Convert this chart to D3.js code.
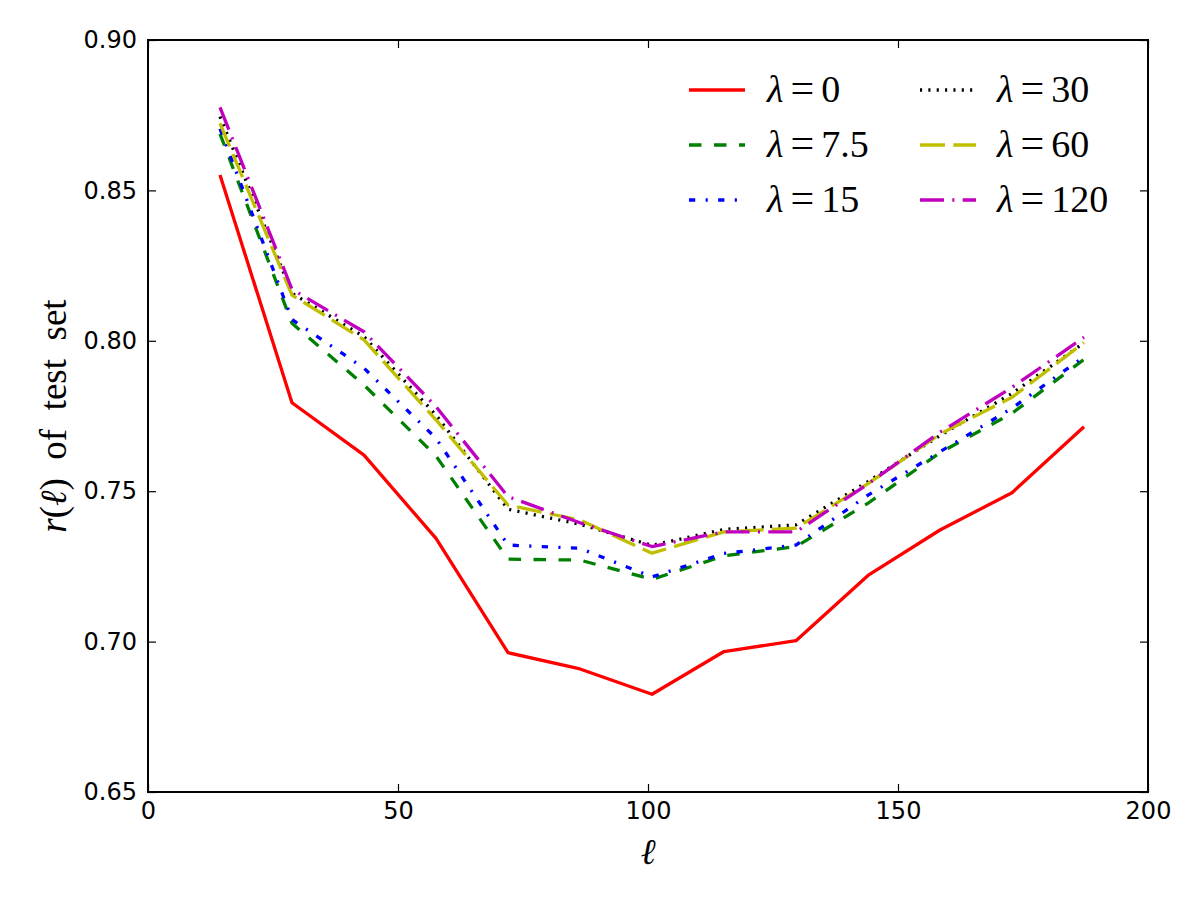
<!DOCTYPE html>
<html>
<head>
<meta charset="utf-8">
<script src="https://cdn.jsdelivr.net/npm/d3@7"></script>
<style>
  html, body { margin: 0; padding: 0; background: #fff; }
  svg { display: block; }
</style>
</head>
<body>
<svg id="chart" width="1200" height="900"></svg>
<script>
// ---- data ----
const ell = [14.4, 28.8, 43.2, 57.6, 72, 86.4, 100.8, 115.2, 129.6, 144, 158.4, 172.8, 187.2];
const lambda0   = [0.8551, 0.7794, 0.7620, 0.7343, 0.6963, 0.6909, 0.6825, 0.6967, 0.7003, 0.7220, 0.7371, 0.7495, 0.7714];
const lambda7_5 = [0.8688, 0.8058, 0.7853, 0.7617, 0.7274, 0.7271, 0.7207, 0.7285, 0.7316, 0.7460, 0.7628, 0.7759, 0.7938];
const lambda15  = [0.8705, 0.8071, 0.7909, 0.7676, 0.7321, 0.7310, 0.7215, 0.7293, 0.7321, 0.7487, 0.7631, 0.7776, 0.7947];
const lambda30  = [0.8745, 0.8158, 0.8014, 0.7753, 0.7440, 0.7390, 0.7320, 0.7373, 0.7388, 0.7532, 0.7685, 0.7825, 0.7993];
const lambda60  = [0.8723, 0.8152, 0.8003, 0.7737, 0.7454, 0.7404, 0.7294, 0.7365, 0.7377, 0.7525, 0.7690, 0.7812, 0.7994];
const lambda120 = [0.8776, 0.8171, 0.8030, 0.7781, 0.7482, 0.7395, 0.7316, 0.7365, 0.7365, 0.7524, 0.7696, 0.7845, 0.8012];

const seriesNames  = ["0", "7.5", "15", "30", "60", "120"];
const seriesValues = [lambda0, lambda7_5, lambda15, lambda30, lambda60, lambda120];
const seriesColors = ["#ff0000", "#008000", "#0000ff", "#000000", "#bfbf00", "#bf00bf"];
const seriesDashes = ["none", "12.5,12.5", "6.25,10.4,2.1,10.4", "2.1,6.25", "25,8.3", "24,8.3,2.1,8.3"];

const xTicks = [0, 50, 100, 150, 200];
const yTicks = [0.65, 0.70, 0.75, 0.80, 0.85, 0.90];

// ---- layout ----
const svg = d3.select("#chart");
const L = 148, R = 1148, T = 40, B = 792;

const x = d3.scaleLinear().domain([0, 200]).range([L, R]);
const y = d3.scaleLinear().domain([0.65, 0.90]).range([B, T]);

const tickFont = "'DejaVu Sans', sans-serif";
const mathFont = "'Liberation Serif', 'DejaVu Serif', serif";

// lines
const line = d3.line().x((d, i) => x(ell[i])).y(d => y(d));
const gLines = svg.append("g");
seriesValues.forEach((vals, k) => {
  gLines.append("path")
    .datum(vals)
    .attr("d", line)
    .attr("fill", "none")
    .attr("stroke", seriesColors[k])
    .attr("stroke-width", 3.3)
    .attr("stroke-dasharray", seriesDashes[k])
    .attr("stroke-linejoin", "round");
});

// axes
function styleAxis(g) {
  g.selectAll(".tick line").attr("stroke", "#000").attr("stroke-width", 1.2);
  g.selectAll(".domain").remove();
  g.selectAll("text").attr("font-family", tickFont).attr("font-size", 24).attr("fill", "#000");
}
svg.append("g").attr("transform", `translate(0,${B})`)
  .call(d3.axisBottom(x).tickValues(xTicks).tickSize(-8).tickPadding(10).tickFormat(d3.format("d")))
  .call(styleAxis);
svg.append("g").attr("transform", `translate(0,${T})`)
  .call(d3.axisTop(x).tickValues(xTicks).tickSize(-8).tickFormat(""))
  .call(styleAxis);
svg.append("g").attr("transform", `translate(${L},0)`)
  .call(d3.axisLeft(y).tickValues(yTicks).tickSize(-8).tickPadding(11).tickFormat(d3.format(".2f")))
  .call(styleAxis);
svg.append("g").attr("transform", `translate(${R},0)`)
  .call(d3.axisRight(y).tickValues(yTicks).tickSize(-8).tickFormat(""))
  .call(styleAxis);

// frame
svg.append("rect")
  .attr("x", L).attr("y", T).attr("width", R - L).attr("height", B - T)
  .attr("fill", "none").attr("stroke", "#000").attr("stroke-width", 2);

// axis labels
svg.append("text")
  .attr("x", (L + R) / 2).attr("y", 864)
  .attr("text-anchor", "middle")
  .attr("font-family", mathFont).attr("font-size", 36).attr("font-style", "italic")
  .text("ℓ");

const yl = svg.append("text")
  .attr("transform", "translate(66,416) rotate(-90)")
  .attr("text-anchor", "middle")
  .attr("font-family", mathFont).attr("font-size", 37);
yl.append("tspan").attr("font-style", "italic").text("r");
yl.append("tspan").text("(");
yl.append("tspan").attr("font-style", "italic").text("ℓ");
yl.append("tspan").text(")\u00a0\u00a0of\u00a0\u00a0test\u00a0\u00a0set");

// legend
const legCols = [{sx: 689, tx: 767}, {sx: 920, tx: 997}];
const legRows = [102, 157, 212];
seriesNames.forEach((name, k) => {
  const c = legCols[Math.floor(k / 3)];
  const by = legRows[k % 3];
  const cy = by - 12;
  svg.append("line")
    .attr("x1", c.sx).attr("x2", c.sx + 56)
    .attr("y1", cy).attr("y2", cy)
    .attr("stroke", seriesColors[k]).attr("stroke-width", 3.3)
    .attr("stroke-dasharray", seriesDashes[k]);
  const t = svg.append("text")
    .attr("x", c.tx).attr("y", by)
    .attr("font-family", mathFont).attr("font-size", 38);
  t.append("tspan").attr("font-style", "italic").text("λ");
  t.append("tspan").attr("dx", 7).attr("font-size", 42).text("=");
  t.append("tspan").attr("dx", 7).text(name);
});
</script>
</body>
</html>
